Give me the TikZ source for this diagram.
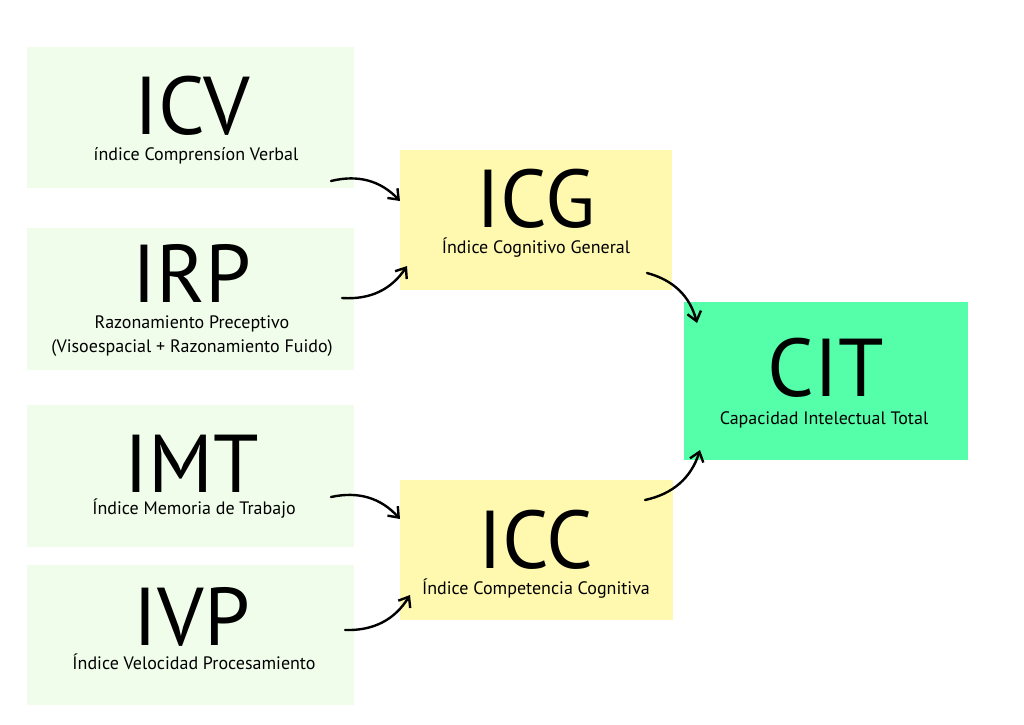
\documentclass[tikz,border=0pt]{standalone}
\usepackage{fontspec}
\setmainfont{PT Sans}
\usetikzlibrary{arrows.meta}
\definecolor{lg}{HTML}{F0FDEB}
\definecolor{yl}{HTML}{FFF9B0}
\definecolor{gr}{HTML}{55FFAA}
\begin{document}
\begin{tikzpicture}[x=1pt,y=-1pt,
  big/.style={anchor=base,font=\fontsize{82}{82}\selectfont,inner sep=0pt,text depth=0pt},
  sub/.style={anchor=base,font=\fontsize{18}{19}\selectfont,inner sep=0pt,text height=11pt,text depth=0pt},
  arr/.style={-{Straight Barb[length=9pt,width=14pt]},line width=2.4pt,line cap=round}]
\useasboundingbox (0,0) rectangle (1024,724);
\fill[lg] (27,47) rectangle (354,188);
\fill[lg] (27,228) rectangle (354,370);
\fill[lg] (27,405) rectangle (354,547);
\fill[lg] (27,565) rectangle (354,705);
\fill[yl] (400,150) rectangle (672,290);
\fill[yl] (400,480) rectangle (673,620);
\fill[gr] (684,302) rectangle (968,460);
\node[big] (icv) at (192,134) {ICV};
\node[sub] (icvs) at (196,160) {índice Comprensíon Verbal};
\node[big] (irp) at (192,302) {IRP};
\node[sub] (irps) at (192,328) {Razonamiento Preceptivo};
\node[sub] (irps2) at (192,352) {(Visoespacial + Razonamiento Fuido)};
\node[big] (imt) at (192,492) {IMT};
\node[sub] (imts) at (194,514) {Índice Memoria de Trabajo};
\node[big] (ivp) at (192,645) {IVP};
\node[sub] (ivps) at (194,669) {Índice Velocidad Procesamiento};
\node[big] (icg) at (536,227) {ICG};
\node[sub] (icgs) at (536,253) {Índice Cognitivo General};
\node[big] (icc) at (536,568) {ICC};
\node[sub] (iccs) at (536,594) {Índice Competencia Cognitiva};
\node[big] (cit) at (826,396) {CIT};
\node[sub] (cits) at (824,424) {Capacidad Intelectual Total};
\coordinate (a1) at (331,181); \coordinate (b1) at (400,201);
\coordinate (a2) at (342,298); \coordinate (b2) at (407,266);
\coordinate (a3) at (647,273); \coordinate (b3) at (697,323);
\coordinate (a4) at (645,500); \coordinate (b4) at (700,450);
\coordinate (a5) at (331,497); \coordinate (b5) at (400,519);
\coordinate (a6) at (345,630); \coordinate (b6) at (410,595);
\draw[arr] (a1) to[bend left=30] (b1);
\draw[arr] (a2) to[bend right=30] (b2);
\draw[arr] (a3) to[bend left=30] (b3);
\draw[arr] (a4) to[bend right=30] (b4);
\draw[arr] (a5) to[bend left=30] (b5);
\draw[arr] (a6) to[bend right=30] (b6);
\end{tikzpicture}
\end{document}
